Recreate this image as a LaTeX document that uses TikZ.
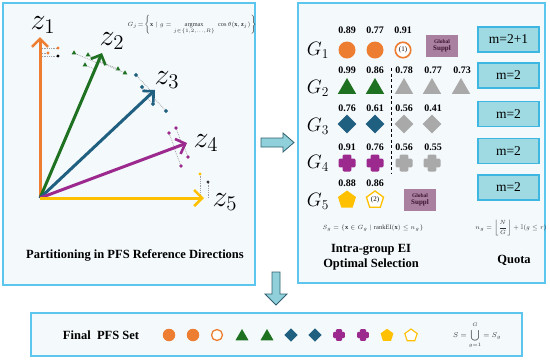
\documentclass[tikz,border=0pt]{standalone}
\usepackage{amsmath,amssymb}
\usepackage{fontspec}
\setmainfont{Liberation Serif}
\usetikzlibrary{arrows.meta,shapes.geometric,calc}
\definecolor{corange}{HTML}{ED7D31}
\definecolor{cgreen}{HTML}{1E7120}
\definecolor{cblue}{HTML}{1F5F80}
\definecolor{cpurple}{HTML}{9C2A8E}
\definecolor{cyellow}{HTML}{FFC000}
\definecolor{cgray}{HTML}{A9A9A9}
\definecolor{panelfill}{HTML}{F4F9FC}
\definecolor{panelborder}{HTML}{5CC6EE}
\definecolor{mfill}{HTML}{9FDAE2}
\definecolor{mborder}{HTML}{3DB6E2}
\definecolor{gsfill}{HTML}{A9809F}
\definecolor{gstext}{HTML}{3A1430}
\definecolor{arrowfill}{HTML}{8FD0DB}
\definecolor{arrowdraw}{HTML}{2F5F70}
\newcommand{\zlab}[1]{\scalebox{1.45}{$z_{#1}$}}
\newcommand{\glab}[1]{\scalebox{1.12}{$G_{#1}$}}
\tikzset{
  panel/.style={draw=panelborder, line width=1.3pt, fill=panelfill},
  zarrow/.style={line width=3pt, draw=#1, -{Straight Barb[length=8pt,width=16pt,line width=2.6pt]}},
  zlabel/.style={font=\fontsize{20.74}{22}\selectfont, inner sep=0pt},
  glabel/.style={font=\fontsize{17.28}{18}\selectfont, inner sep=0pt},
  score/.style={font=\bfseries\fontsize{10}{11}\selectfont},
  circ/.style={circle, fill=#1, minimum size=17pt, inner sep=0pt},
  ring/.style={circle, draw=#1, line width=1.6pt, fill=white, minimum size=15.5pt, inner sep=0pt, font=\fontsize{7}{7}\selectfont},
  tri/.style={regular polygon, regular polygon sides=3, fill=#1, minimum size=21pt, inner sep=0pt},
  diam/.style={diamond, fill=#1, minimum width=19pt, minimum height=19pt, inner sep=0pt},
  pent/.style={regular polygon, regular polygon sides=5, fill=#1, minimum size=19pt, inner sep=0pt},
  opent/.style={regular polygon, regular polygon sides=5, draw=#1, line width=1.3pt, fill=white, minimum size=18pt, inner sep=0pt, font=\fontsize{7}{7}\selectfont},
  gsbox/.style={fill=gsfill, minimum width=32pt, minimum height=22pt, inner sep=0pt, align=center, text=gstext, font=\bfseries\fontsize{5.5}{8}\selectfont},
  mbox/.style={draw=mborder, line width=1.3pt, fill=mfill, minimum width=61pt, minimum height=25pt, inner sep=0pt, font=\fontsize{13.5}{14}\selectfont},
  blockarrow/.style={fill=arrowfill, draw=arrowdraw, line width=0.8pt, line join=miter},
  dotline/.style={draw=gray!75, line width=0.7pt, dash pattern=on 0.8pt off 1pt},
  pcross/.pic={\fill[pic actions, rounded corners=1.2pt] (-8.5,-4.3) rectangle (8.5,4.3); \fill[pic actions, rounded corners=1.2pt] (-4.3,-8.5) rectangle (4.3,8.5);},
  caption/.style={font=\bfseries\fontsize{12.5}{15}\selectfont, align=center},
}
\begin{document}
\begin{tikzpicture}[x=1pt,y=-1pt]
\useasboundingbox (0,0) rectangle (550,360);
% ---------- panels ----------
\draw[panel] (3,3) rectangle (255,285);
\draw[panel] (298,3) rectangle (545,283);
\draw[panel] (31,313) rectangle (522,356);
% ---------- left panel: reference directions ----------
\coordinate (O) at (40,198);
\coordinate (T1) at (40,37);
\coordinate (T2) at (102,53);
\coordinate (T3) at (155,90);
\coordinate (T4) at (187,143);
\coordinate (T5) at (204,198);
% scattered points with projections
\foreach \px/\py/\c in {48/53/corange, 58/48/corange, 58/56/black}{
  \draw[dotline] ($(O)!(\px,\py)!(T1)$) -- (\px,\py);
  \fill[\c] (\px,\py) circle (1.6pt);
}
\foreach \px/\py in {74/53, 88/55, 85/65, 118/69, 125/73}{
  \draw[dotline] ($(O)!(\px,\py)!(T2)$) -- (\px,\py);
  \node[regular polygon, regular polygon sides=3, fill=cgreen, minimum size=5.5pt, inner sep=0pt] at (\px,\py) {};
}
\foreach \px/\py in {136/75, 142/87, 153/104, 166/111}{
  \draw[dotline] ($(O)!(\px,\py)!(T3)$) -- (\px,\py);
  \node[diamond, fill=cblue, minimum size=4.5pt, inner sep=0pt] at (\px,\py) {};
}
\foreach \px/\py in {169/133, 176/128, 188/157, 181/166}{
  \draw[dotline] ($(O)!(\px,\py)!(T4)$) -- (\px,\py);
  \fill[cpurple] (\px,\py) circle (1.8pt);
}
\foreach \px/\py/\c in {200/174/cyellow, 208/182/black!80}{
  \draw[dotline] ($(O)!(\px,\py)!(T5)$) -- (\px,\py);
  \fill[\c] (\px,\py) circle (1.7pt);
}
\draw[zarrow=corange] (O) -- (T1);
\draw[zarrow=cgreen] (O) -- (T2);
\draw[zarrow=cblue] (O) -- (T3);
\draw[zarrow=cpurple] (O) -- (T4);
\draw[zarrow=cyellow] (O) -- (T5);
\node[zlabel] (z1) at (43,25) {\zlab{1}};
\node[zlabel] (z2) at (112,41) {\zlab{2}};
\node[zlabel] (z3) at (167,80) {\zlab{3}};
\node[zlabel] (z4) at (206,143) {\zlab{4}};
\node[zlabel] (z5) at (225,202) {\zlab{5}};
\node[font=\fontsize{6.3}{7}\selectfont, text=black!80] (gj) at (192,25)
  {$G_j\!=\!\left\{\mathbf{x}\mid g=\mathop{\mathrm{argmax}}\limits_{j\in\{1,2,\ldots,R\}}\;\cos\theta(\mathbf{x},\mathbf{z}_j)\right\}$};
\node[caption] (capL) at (135,255) {Partitioning in PFS Reference Directions};
% ---------- arrows between panels ----------
\draw[blockarrow] (261,138) -- (283,138) -- (283,133) -- (294,142.5) -- (283,152) -- (283,147) -- (261,147) -- cycle;
\draw[blockarrow] (272,272) -- (280,272) -- (280,294) -- (287,294) -- (276,305) -- (265,294) -- (272,294) -- cycle;
% ---------- right panel ----------
\node[glabel] (G1) at (318,50) {\glab{1}};
\node[glabel] (G2) at (318,88) {\glab{2}};
\node[glabel] (G3) at (318,126) {\glab{3}};
\node[glabel] (G4) at (318,163) {\glab{4}};
\node[glabel] (G5) at (318,201) {\glab{5}};
% G1
\node[score] at (347,30) {0.89};
\node[score] at (375,30) {0.77};
\node[score] at (403,30) {0.91};
\node[circ=corange] (a1) at (347,50) {};
\node[circ=corange] (a2) at (375,50) {};
\node[ring=corange] (a3) at (403,50) {(1)};
\node[gsbox] (gs1) at (442,46) {Global\\[-1pt]{\fontsize{7}{8}\selectfont Suppl}};
% G2
\node[score] at (347,70) {0.99};
\node[score] at (375,70) {0.86};
\node[score] at (404,70) {0.78};
\node[score] at (433,70) {0.77};
\node[score] at (462,70) {0.73};
\node[tri=cgreen] (b1) at (347,88.5) {};
\node[tri=cgreen] (b2) at (375,88.5) {};
\node[tri=cgray] (b3) at (404,88.5) {};
\node[tri=cgray] (b4) at (432,88.5) {};
\node[tri=cgray] (b5) at (461,88.5) {};
% G3
\node[score] at (347,108) {0.76};
\node[score] at (375,108) {0.61};
\node[score] at (404,108) {0.56};
\node[score] at (433,108) {0.41};
\node[diam=cblue] (c1) at (347,124) {};
\node[diam=cblue] (c2) at (375,124) {};
\node[diam=cgray] (c3) at (404,124) {};
\node[diam=cgray] (c4) at (432,124) {};
% G4
\node[score] at (347,147) {0.91};
\node[score] at (375,147) {0.76};
\node[score] at (404,147) {0.56};
\node[score] at (433,147) {0.55};
\pic[fill=cpurple] at (347,163) {pcross};
\pic[fill=cpurple] at (375,163) {pcross};
\pic[fill=cgray] at (404,163) {pcross};
\pic[fill=cgray] at (432,163) {pcross};
% G5
\node[score] at (347,183) {0.88};
\node[score] at (375,183) {0.86};
\node[pent=cyellow] (e1) at (347,200) {};
\node[opent=cyellow] (e2) at (375,200) {(2)};
\node[gsbox] (gs5) at (420,200) {Global\\[-1pt]{\fontsize{7}{8}\selectfont Suppl}};
% dashed separator
\coordinate (dtop) at (391,68);
\coordinate (dbot) at (391,173);
\draw[line width=1pt, dash pattern=on 3pt off 2.5pt] (dtop) -- (dbot);
% quota boxes
\node[mbox] (m1) at (508.5,39.5) {m=2+1};
\node[mbox] (m2) at (508.5,75.5) {m=2};
\node[mbox] (m3) at (508.5,114) {m=2};
\node[mbox] (m4) at (508.5,151) {m=2};
\node[mbox] (m5) at (508.5,187.5) {m=2};
% formulas
\node[font=\fontsize{6.5}{7}\selectfont, text=black!80] (sg) at (373,228)
  {$S_g=\{\mathbf{x}\in G_g\mid \mathrm{rankEI}(\mathbf{x})\le n_g\}$};
\node[font=\fontsize{6.5}{7}\selectfont, text=black!80] (ng) at (511,228)
  {$n_g=\left\lfloor\dfrac{N}{G}\right\rfloor+\mathbb{I}(g\le r)$};
\node[caption] (capR) at (371,257) {Intra-group EI\\Optimal Selection};
\node[caption] (capQ) at (514,260) {Quota};
% ---------- bottom panel ----------
\node[caption] (final) at (101,335) {Final\ \ PFS Set};
\node[circ=corange, minimum size=12.5pt] (f1) at (169,335) {};
\node[circ=corange, minimum size=12.5pt] (f2) at (193,335) {};
\node[circle, draw=corange, line width=1.3pt, fill=white, minimum size=11pt, inner sep=0pt] (f3) at (217,335) {};
\node[tri=cgreen, minimum size=15pt] (f4) at (242,336.5) {};
\node[tri=cgreen, minimum size=15pt] (f5) at (267,336.5) {};
\node[diam=cblue, minimum width=13.5pt, minimum height=13.5pt] (f6) at (291,335) {};
\node[diam=cblue, minimum width=13.5pt, minimum height=13.5pt] (f7) at (315,335) {};
\pic[fill=cpurple, scale=0.7] at (339,335) {pcross};
\pic[fill=cpurple, scale=0.7] at (363,335) {pcross};
\node[pent=cyellow, minimum size=13.5pt] (f10) at (387,335.5) {};
\node[regular polygon, regular polygon sides=5, draw=cyellow, line width=1.1pt, fill=white, minimum size=13pt, inner sep=0pt] (f11) at (411,335.5) {};
\node[font=\fontsize{7.5}{8}\selectfont, text=black!80] (sfinal) at (477,335)
  {$\displaystyle S=\bigcup_{g=1}^{\raisebox{1.5pt}{$\scriptstyle G$}}=S_g$};
\end{tikzpicture}
\end{document}
